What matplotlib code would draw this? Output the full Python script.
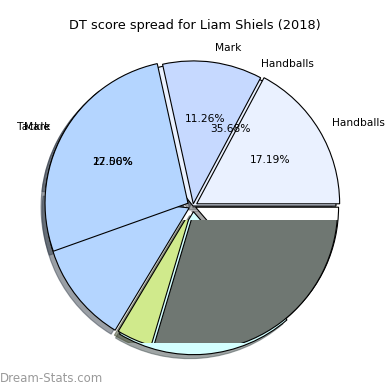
import matplotlib
matplotlib.use("Agg")
import matplotlib.pyplot as plt
from matplotlib.patches import Rectangle

title = "DT score spread for Liam Shiels (2018)"
watermark = "Dream-Stats.com"

# earlier pie left underneath (labelled part)
under_labels = ["Handballs", "Mark"]
under_share = [0.3568, 0.1256]
under_colors = ["#eaf1ff", "#c6d9ff"]
under_explode = [0.0, 0.04]

# earlier pie, unlabelled remainder
rest_share = [0.181, 0.2, 0.1366]
rest_colors = ["#b4d5ff", "#d4ffff", "#ffffff"]
rest_explode = [0.03, 0.04, 0.02]

# green and dark grey slices (band-clipped layer)
band_share = [0.04, 0.296]
band_colors = ["#d0ea8c", "#6f7772"]
band_explode = [0.02, 0.02]

# top pie
top_labels = ["Handballs", "Mark", "Tackle"]
top_share = [0.1719, 0.1126, 0.27]
top_colors = ["#eaf1ff", "#c6d9ff", "#b4d5ff"]
top_explode = [0.03, 0.015, 0.04]

FS = 7.7
fig = plt.figure(figsize=(3.9, 3.9), dpi=100)
ax = fig.add_axes([0, 0, 1, 1])
wp = dict(edgecolor="black", linewidth=0.8)
tp = dict(fontsize=FS)

ax.pie(under_share, labels=under_labels, colors=under_colors, explode=under_explode,
       autopct="%1.2f%%", normalize=False, shadow=True, wedgeprops=wp, textprops=tp)
ax.pie(rest_share, colors=rest_colors, explode=rest_explode, normalize=False,
       startangle=360 * sum(under_share), shadow=True, wedgeprops=wp)
bw, _ = ax.pie(band_share, colors=band_colors, explode=band_explode, normalize=False,
               startangle=360 * (1 - sum(band_share)), shadow=True, wedgeprops=wp)
ax.pie(top_share, labels=top_labels, colors=top_colors, explode=top_explode,
       autopct="%1.2f%%", normalize=False, shadow=True, wedgeprops=wp, textprops=tp)

clip = Rectangle((-2, -0.958), 4, 0.86, transform=ax.transData)
for p in ax.patches:
    if any(p is g for g in bw) or any(getattr(p, "patch", None) is g for g in bw):
        p.set_clip_on(True)
        p.set_clip_path(clip)

ax.set_xlim(-1.35, 1.378)
ax.set_ylim(-1.287, 1.441)
ax.set_aspect("equal")
ax.axis("off")

fig.text(0.5, 1 - 25 / 390, title, ha="center", va="center", fontsize=9.3)
fig.text(0.0, 11 / 390, watermark, ha="left", va="center", fontsize=8.5, color="#9a9a9a")
fig.savefig("out.png", dpi=100)
